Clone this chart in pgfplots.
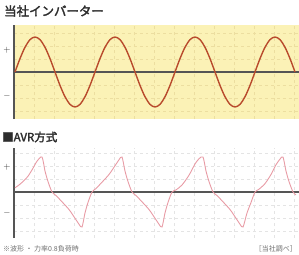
\documentclass[border=0pt]{standalone}
\usepackage{pgfplots}
\pgfplotsset{compat=1.18}
\usepackage{fontspec}
\setmainfont{Liberation Sans}
\newfontfamily\cjk[AutoFakeBold=2.5]{Noto Sans CJK JP}
\definecolor{yellowbg}{RGB}{251,242,182}
\definecolor{gridyellow}{RGB}{236,222,160}
\definecolor{gridgray}{RGB}{228,228,228}
\definecolor{axisgray}{RGB}{85,85,85}
\definecolor{sinered}{RGB}{185,75,45}
\definecolor{avrpink}{RGB}{232,155,165}
\definecolor{titlegray}{RGB}{45,45,45}
\definecolor{notegray}{RGB}{110,110,110}
\begin{document}
\begin{tikzpicture}
\path[use as bounding box] (0,0) rectangle (299bp,-255bp);
\node[anchor=west, inner sep=0, text=titlegray, font=\cjk\bfseries\fontsize{12.5}{14}\selectfont] at (4bp,-11bp) {当社インバーター};
\begin{axis}[
  at={(14bp,-25bp)}, anchor=north west, scale only axis,
  width=285bp, height=94bp,
  xmin=14, xmax=299, ymin=-1.343, ymax=1.343,
  axis background/.style={fill=yellowbg},
  axis x line=middle, axis y line=left,
  axis line style={-, line width=2.4bp, draw=axisgray},
  xtick={34,54,...,294}, xticklabel=\empty,
  ytick={-1.113,-0.742,-0.371,0.371,0.742,1.113}, yticklabel=\empty,
  grid=major, grid style={dashed, line width=0.35pt, draw=gridyellow},
  major tick length=0,
  extra y ticks={0.63,-0.68}, extra y tick labels={$+$,$-$},
  extra y tick style={grid=none},
  yticklabel style={text=titlegray, font=\small},
  clip=false,
]
\addplot[sinered, line width=1.4bp, smooth] coordinates {
(15,0) (20,.383) (25,.707) (30,.924) (35,1) (40,.924) (45,.707) (50,.383)
(55,0) (60,-.383) (65,-.707) (70,-.924) (75,-1) (80,-.924) (85,-.707) (90,-.383)
(95,0) (100,.383) (105,.707) (110,.924) (115,1) (120,.924) (125,.707) (130,.383)
(135,0) (140,-.383) (145,-.707) (150,-.924) (155,-1) (160,-.924) (165,-.707) (170,-.383)
(175,0) (180,.383) (185,.707) (190,.924) (195,1) (200,.924) (205,.707) (210,.383)
(215,0) (220,-.383) (225,-.707) (230,-.924) (235,-1) (240,-.924) (245,-.707) (250,-.383)
(255,0) (260,.383) (265,.707) (270,.924) (275,1) (280,.924) (285,.707) (290,.383)
(295,0)};
\end{axis}
\node[anchor=west, inner sep=0, text=titlegray, font=\cjk\bfseries\fontsize{11.5}{13}\selectfont] at (2bp,-137bp) {■AVR方式};
\begin{axis}[
  at={(14bp,-148bp)}, anchor=north west, scale only axis,
  width=285bp, height=90bp,
  xmin=14, xmax=299, ymin=-1.314, ymax=1.257,
  axis x line=middle, axis y line=left,
  axis line style={-, line width=2.4bp, draw=axisgray},
  xtick={34,54,...,294}, xticklabel=\empty,
  ytick={-1.113,-0.742,-0.371,0.371,0.742,1.113}, yticklabel=\empty,
  grid=major, grid style={dashed, line width=0.35pt, draw=gridgray},
  major tick length=0,
  extra y ticks={0.7,-0.6}, extra y tick labels={$+$,$-$},
  extra y tick style={grid=none},
  yticklabel style={text=titlegray, font=\small},
  clip=false,
]
\addplot[avrpink, line width=0.9bp, smooth, tension=0.45] coordinates {
(15,0.12) (19,0.2) (23,0.3) (28,0.45) (33,0.68) (37,0.88) (42,1)
(45,0.6) (48,0.3) (52,0) (56,-0.1) (62,-0.28) (69,-0.5) (75,-0.75) (79,-0.92) (82,-1)
(85,-0.6) (88,-0.3) (92,0) (96,0.1) (102,0.28) (109,0.5) (115,0.75) (119,0.92) (122,1)
(125,0.6) (128,0.3) (132,0) (136,-0.1) (142,-0.28) (149,-0.5) (155,-0.75) (159,-0.92) (162,-1)
(165,-0.6) (168,-0.3) (172,0) (176,0.06) (182,0.2) (189,0.48) (195,0.8) (199,0.95) (203,1)
(206,0.6) (209,0.3) (213,0) (217,-0.1) (223,-0.28) (230,-0.5) (236,-0.75) (240,-0.92) (243,-1)
(247,-0.6) (251,-0.3) (255,0) (259,0.08) (265,0.24) (271,0.5) (276,0.78) (280,0.94) (283,1)
(286,0.6) (289,0.3) (293,0) (296,-0.08)};
\end{axis}
\node[anchor=west, inner sep=0, text=notegray, font=\cjk\fontsize{7}{8}\selectfont] at (3bp,-249bp) {※波形 ・ 力率0.8負荷時};
\node[anchor=east, inner sep=0, text=notegray, font=\cjk\fontsize{7}{8}\selectfont] at (297bp,-249bp) {［当社調べ］};
\end{tikzpicture}
\end{document}
